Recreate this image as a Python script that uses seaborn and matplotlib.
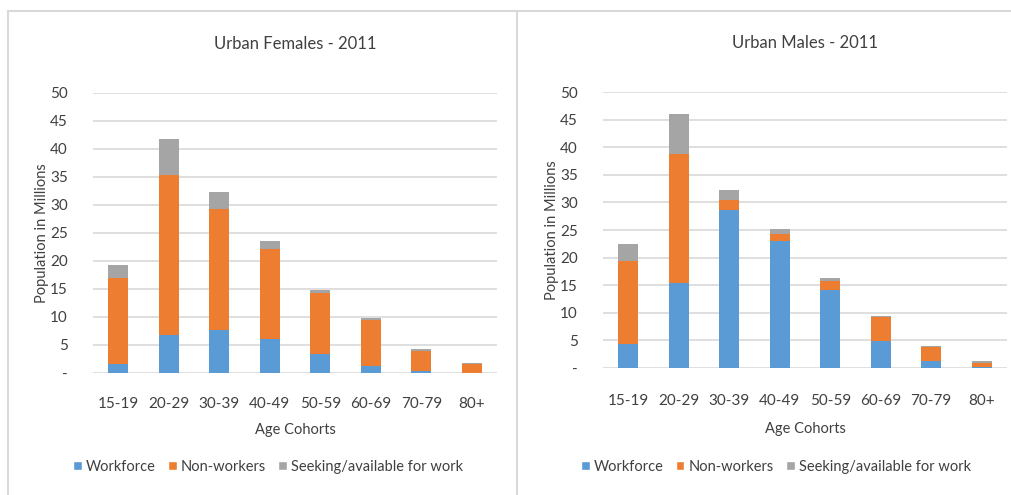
# Libraries
# ===================================================
import numpy as np
import pandas as pd
import seaborn as sns
import matplotlib.pyplot as plt
import matplotlib.lines as mlines
from matplotlib.patches import Patch

# Data
# ===================================================
cohorts = ['15-19', '20-29', '30-39', '40-49', '50-59', '60-69', '70-79', '80+']

# Urban females (millions)
fem_workforce = [1.6, 6.7, 7.6, 6.1, 3.4, 1.3, 0.4, 0.05]
fem_nonworkers = [15.4, 28.7, 21.6, 16.0, 10.9, 8.2, 3.6, 1.55]
fem_seeking = [2.3, 6.4, 3.2, 1.5, 0.5, 0.3, 0.3, 0.25]

# Urban males (millions)
male_workforce = [4.3, 15.4, 28.6, 23.0, 14.2, 4.9, 1.2, 0.1]
male_nonworkers = [15.1, 23.3, 1.8, 1.3, 1.5, 4.4, 2.6, 0.8]
male_seeking = [3.0, 7.3, 1.8, 0.8, 0.6, 0.2, 0.2, 0.3]

yticks = [0, 5, 10, 15, 20, 25, 30, 35, 40, 45, 50]
ytick_labels = ['-', '5', '10', '15', '20', '25', '30', '35', '40', '45', '50']

# Style
# ===================================================
sns.set_style('white')
plt.rcParams['font.family'] = ['Lato', 'DejaVu Sans']
plt.rcParams['font.size'] = 10

c_work = '#5B9BD5'
c_non = '#ED7D31'
c_seek = '#A5A5A5'
c_text = '#404040'
c_grid = '#D9D9D9'

W, H = 1012, 495
fig = plt.figure(figsize=(W / 100, H / 100), dpi=100)


def px_axes(left, top, right, bottom):
    return fig.add_axes([left / W, 1 - bottom / H, (right - left) / W, (bottom - top) / H])


def draw_panel(ax, work, non, seek, title, xt_pad, xl_pad):
    df = pd.DataFrame({'cohort': cohorts, 'work': work, 'non': non, 'seek': seek})
    df['lvl2'] = df['work'] + df['non']
    df['lvl3'] = df['lvl2'] + df['seek']
    for col, c in [('lvl3', c_seek), ('lvl2', c_non), ('work', c_work)]:
        sns.barplot(data=df, x='cohort', y=col, color=c, width=0.4, saturation=1,
                    linewidth=0, edgecolor='none', ax=ax)

    ax.set_xlim(-0.5, 7.5)
    ax.set_ylim(0, 50)
    ax.set_yticks(yticks)
    ax.set_yticklabels(ytick_labels)
    ax.yaxis.grid(True, color=c_grid, linewidth=1.2)
    ax.set_axisbelow(True)
    sns.despine(ax=ax, left=True, bottom=True)
    ax.tick_params(axis='y', length=0, pad=18, labelsize=11, labelcolor=c_text)
    ax.tick_params(axis='x', length=0, pad=xt_pad, labelsize=11, labelcolor=c_text)
    ax.set_ylabel('Population in Millions', fontsize=10.5, color=c_text, labelpad=1)
    ax.set_xlabel('Age Cohorts', fontsize=10.5, color=c_text, labelpad=xl_pad)
    ax.set_title(title, fontsize=12, color=c_text, pad=32)


# Panels
# ===================================================
ax1 = px_axes(93, 93, 497, 373)
draw_panel(ax1, fem_workforce, fem_nonworkers, fem_seeking, 'Urban Females - 2011', 17, 9)

ax2 = px_axes(603, 92, 1007, 368)
draw_panel(ax2, male_workforce, male_nonworkers, male_seeking, 'Urban Males - 2011', 19, 10)

# Legends
handles = [Patch(facecolor=c_work, label='Workforce'),
           Patch(facecolor=c_non, label='Non-workers'),
           Patch(facecolor=c_seek, label='Seeking/available for work')]
for cx in [268 / W, 776 / W]:
    fig.legend(handles=handles, loc='center', bbox_to_anchor=(cx, 1 - 467 / H), ncol=3,
               frameon=False, fontsize=10.5, handlelength=0.6, handleheight=0.6,
               handletextpad=0.3, columnspacing=0.8, labelcolor=c_text)

# Panel borders
border = '#D9D9D9'
fig.add_artist(mlines.Line2D([8 / W, 1], [1 - 11 / H, 1 - 11 / H], color=border, lw=1.5))
fig.add_artist(mlines.Line2D([8 / W, 8 / W], [0, 1 - 11 / H], color=border, lw=1.5))
fig.add_artist(mlines.Line2D([517 / W, 517 / W], [0, 1 - 11 / H], color=border, lw=1.5))

plt.savefig('out.png', dpi=100)
